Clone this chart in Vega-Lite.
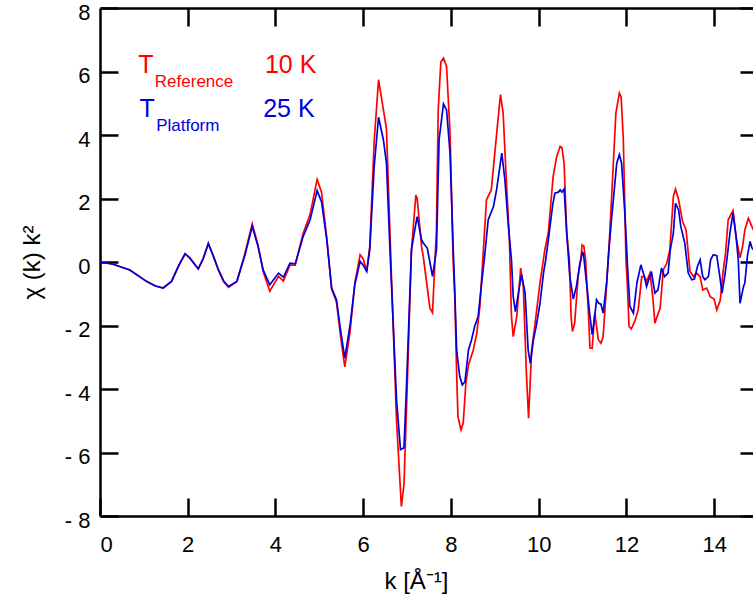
{
  "$schema": "https://vega.github.io/schema/vega-lite/v6.json",
  "width": 658,
  "height": 508,
  "autosize": {"type": "none"},
  "padding": {"left": 100, "top": 8, "right": 0, "bottom": 89},
  "background": "white",
  "config": {
    "view": {"stroke": null},
    "axis": {
      "grid": false,
      "domainColor": "black",
      "domainWidth": 2.5,
      "tickColor": "black",
      "tickWidth": 2.5,
      "tickSize": -18,
      "labelFont": "Liberation Sans",
      "labelFontSize": 22,
      "labelColor": "black",
      "titleFont": "Liberation Sans",
      "titleFontSize": 24,
      "titleFontWeight": "normal",
      "titleColor": "black"
    }
  },
  "datasets": {
    "ref": [
      {"k":0,"chi":0},{"k":0.3,"chi":-0.07},{"k":0.68,"chi":-0.25},{"k":1.06,"chi":-0.61},{"k":1.25,"chi":-0.75},{"k":1.44,"chi":-0.82},{"k":1.63,"chi":-0.61},{"k":1.8,"chi":-0.1},{"k":1.94,"chi":0.26},{"k":2.05,"chi":0.12},{"k":2.24,"chi":-0.22},{"k":2.35,"chi":0.1},{"k":2.47,"chi":0.6},{"k":2.58,"chi":0.2},{"k":2.7,"chi":-0.25},{"k":2.82,"chi":-0.62},{"k":2.93,"chi":-0.8},{"k":3.12,"chi":-0.61},{"k":3.3,"chi":0.25},{"k":3.47,"chi":1.2},{"k":3.6,"chi":0.55},{"k":3.72,"chi":-0.3},{"k":3.87,"chi":-0.92},{"k":4.07,"chi":-0.45},{"k":4.18,"chi":-0.6},{"k":4.33,"chi":-0.1},{"k":4.45,"chi":-0.1},{"k":4.63,"chi":0.9},{"k":4.79,"chi":1.5},{"k":4.95,"chi":2.6},{"k":5.05,"chi":2.2},{"k":5.17,"chi":0.75},{"k":5.28,"chi":-0.85},{"k":5.39,"chi":-1.25},{"k":5.49,"chi":-2.4},{"k":5.58,"chi":-3.3},{"k":5.7,"chi":-2.2},{"k":5.81,"chi":-0.66},{"k":5.93,"chi":0.23},{"k":6.0,"chi":0.1},{"k":6.08,"chi":-0.3},{"k":6.15,"chi":0.5},{"k":6.25,"chi":3.8},{"k":6.35,"chi":5.74},{"k":6.46,"chi":4.8},{"k":6.53,"chi":4.2},{"k":6.62,"chi":0.5},{"k":6.76,"chi":-5.0},{"k":6.87,"chi":-7.7},{"k":6.93,"chi":-7.0},{"k":6.99,"chi":-4.5},{"k":7.1,"chi":0.38},{"k":7.2,"chi":2.11},{"k":7.23,"chi":2.0},{"k":7.33,"chi":0.49},{"k":7.37,"chi":0.17},{"k":7.46,"chi":-0.8},{"k":7.52,"chi":-1.45},{"k":7.58,"chi":-1.6},{"k":7.67,"chi":1.0},{"k":7.71,"chi":4.79},{"k":7.77,"chi":6.3},{"k":7.83,"chi":6.42},{"k":7.9,"chi":6.16},{"k":7.98,"chi":4.06},{"k":8.05,"chi":0.07},{"k":8.09,"chi":-1.19},{"k":8.13,"chi":-3.5},{"k":8.16,"chi":-4.87},{"k":8.23,"chi":-5.29},{"k":8.28,"chi":-5.07},{"k":8.34,"chi":-3.81},{"k":8.4,"chi":-3.24},{"k":8.51,"chi":-2.77},{"k":8.59,"chi":-2.24},{"k":8.66,"chi":-1.4},{"k":8.74,"chi":0.38},{"k":8.81,"chi":1.96},{"k":8.92,"chi":2.27},{"k":9.0,"chi":3.43},{"k":9.08,"chi":4.58},{"k":9.13,"chi":5.27},{"k":9.19,"chi":4.69},{"k":9.27,"chi":2.38},{"k":9.33,"chi":0.8},{"k":9.38,"chi":-1.72},{"k":9.42,"chi":-2.35},{"k":9.5,"chi":-1.72},{"k":9.59,"chi":-0.19},{"k":9.65,"chi":-0.77},{"k":9.72,"chi":-3.5},{"k":9.77,"chi":-4.92},{"k":9.84,"chi":-2.77},{"k":9.91,"chi":-2.03},{"k":10.03,"chi":-0.66},{"k":10.14,"chi":0.38},{"k":10.22,"chi":0.92},{"k":10.33,"chi":2.69},{"k":10.41,"chi":3.32},{"k":10.49,"chi":3.64},{"k":10.53,"chi":3.6},{"k":10.58,"chi":3.11},{"k":10.64,"chi":0.91},{"k":10.7,"chi":0.07},{"k":10.74,"chi":-1.72},{"k":10.77,"chi":-2.19},{"k":10.82,"chi":-1.93},{"k":10.9,"chi":-0.46},{"k":10.96,"chi":0.07},{"k":10.99,"chi":0.54},{"k":11.03,"chi":0.5},{"k":11.07,"chi":0.07},{"k":11.13,"chi":-1.5},{"k":11.17,"chi":-2.71},{"k":11.22,"chi":-2.72},{"k":11.28,"chi":-1.61},{"k":11.36,"chi":-2.45},{"k":11.42,"chi":-2.56},{"k":11.47,"chi":-2.35},{"k":11.55,"chi":-0.66},{"k":11.6,"chi":0.38},{"k":11.66,"chi":1.96},{"k":11.76,"chi":4.69},{"k":11.84,"chi":5.32},{"k":11.88,"chi":5.2},{"k":11.93,"chi":3.85},{"k":11.99,"chi":0.07},{"k":12.02,"chi":-0.66},{"k":12.06,"chi":-2.03},{"k":12.11,"chi":-2.11},{"k":12.19,"chi":-1.87},{"k":12.27,"chi":-1.5},{"k":12.35,"chi":-0.46},{"k":12.41,"chi":-0.46},{"k":12.46,"chi":-0.61},{"k":12.54,"chi":-0.35},{"k":12.6,"chi":-1.09},{"k":12.65,"chi":-1.93},{"k":12.7,"chi":-1.72},{"k":12.77,"chi":-1.45},{"k":12.84,"chi":-0.25},{"k":12.92,"chi":-0.04},{"k":12.99,"chi":0.38},{"k":13.07,"chi":2.06},{"k":13.12,"chi":2.3},{"k":13.19,"chi":1.96},{"k":13.28,"chi":1.28},{"k":13.36,"chi":1.01},{"k":13.41,"chi":0.28},{"k":13.45,"chi":-0.3},{"k":13.53,"chi":-0.46},{"k":13.6,"chi":-0.35},{"k":13.68,"chi":-0.46},{"k":13.74,"chi":-0.88},{"k":13.83,"chi":-0.82},{"k":13.91,"chi":-1.09},{"k":14.0,"chi":-1.17},{"k":14.06,"chi":-1.51},{"k":14.14,"chi":-1.2},{"k":14.2,"chi":-0.35},{"k":14.26,"chi":0.28},{"k":14.32,"chi":1.33},{"k":14.43,"chi":1.62},{"k":14.51,"chi":0.7},{"k":14.59,"chi":0.13},{"k":14.65,"chi":0.5},{"k":14.7,"chi":1.01},{"k":14.78,"chi":1.38},{"k":14.86,"chi":1.12},{"k":15,"chi":0.7}
    ],
    "plat": [
      {"k":0,"chi":0},{"k":0.3,"chi":-0.07},{"k":0.68,"chi":-0.25},{"k":1.06,"chi":-0.61},{"k":1.25,"chi":-0.75},{"k":1.44,"chi":-0.82},{"k":1.63,"chi":-0.61},{"k":1.8,"chi":-0.1},{"k":1.94,"chi":0.26},{"k":2.05,"chi":0.12},{"k":2.24,"chi":-0.22},{"k":2.35,"chi":0.1},{"k":2.47,"chi":0.57},{"k":2.58,"chi":0.2},{"k":2.7,"chi":-0.25},{"k":2.82,"chi":-0.6},{"k":2.93,"chi":-0.77},{"k":3.12,"chi":-0.61},{"k":3.3,"chi":0.2},{"k":3.47,"chi":1.12},{"k":3.6,"chi":0.5},{"k":3.72,"chi":-0.25},{"k":3.87,"chi":-0.72},{"k":4.07,"chi":-0.35},{"k":4.18,"chi":-0.48},{"k":4.33,"chi":-0.04},{"k":4.45,"chi":-0.06},{"k":4.63,"chi":0.8},{"k":4.79,"chi":1.33},{"k":4.95,"chi":2.25},{"k":5.05,"chi":1.9},{"k":5.17,"chi":0.7},{"k":5.28,"chi":-0.82},{"k":5.39,"chi":-1.19},{"k":5.49,"chi":-2.2},{"k":5.58,"chi":-3.03},{"k":5.7,"chi":-2.0},{"k":5.81,"chi":-0.7},{"k":5.93,"chi":0.02},{"k":6.0,"chi":-0.1},{"k":6.08,"chi":-0.3},{"k":6.15,"chi":0.4},{"k":6.25,"chi":3.0},{"k":6.35,"chi":4.56},{"k":6.46,"chi":3.85},{"k":6.53,"chi":3.12},{"k":6.62,"chi":0.07},{"k":6.76,"chi":-4.34},{"k":6.85,"chi":-5.91},{"k":6.93,"chi":-5.85},{"k":6.99,"chi":-3.81},{"k":7.1,"chi":0.38},{"k":7.2,"chi":1.2},{"k":7.23,"chi":1.43},{"k":7.33,"chi":0.7},{"k":7.37,"chi":0.6},{"k":7.46,"chi":0.44},{"k":7.52,"chi":0.0},{"k":7.58,"chi":-0.45},{"k":7.67,"chi":0.38},{"k":7.73,"chi":3.85},{"k":7.83,"chi":4.98},{"k":7.9,"chi":4.79},{"k":7.98,"chi":3.43},{"k":8.05,"chi":0.49},{"k":8.09,"chi":-1.0},{"k":8.13,"chi":-2.77},{"k":8.2,"chi":-3.6},{"k":8.26,"chi":-3.87},{"k":8.32,"chi":-3.77},{"k":8.4,"chi":-2.77},{"k":8.47,"chi":-2.45},{"k":8.54,"chi":-2.03},{"k":8.62,"chi":-1.72},{"k":8.7,"chi":-0.66},{"k":8.76,"chi":0.07},{"k":8.85,"chi":1.33},{"k":8.97,"chi":1.75},{"k":9.04,"chi":2.27},{"k":9.16,"chi":3.43},{"k":9.23,"chi":2.59},{"k":9.31,"chi":1.12},{"k":9.38,"chi":0.07},{"k":9.42,"chi":-1.09},{"k":9.47,"chi":-1.56},{"k":9.55,"chi":-0.88},{"k":9.61,"chi":-0.4},{"k":9.69,"chi":-0.97},{"k":9.76,"chi":-2.77},{"k":9.81,"chi":-3.19},{"k":9.88,"chi":-2.45},{"k":9.95,"chi":-1.98},{"k":10.03,"chi":-1.3},{"k":10.11,"chi":-0.35},{"k":10.16,"chi":0.07},{"k":10.22,"chi":0.7},{"k":10.32,"chi":1.8},{"k":10.37,"chi":2.17},{"k":10.45,"chi":2.2},{"k":10.49,"chi":2.27},{"k":10.53,"chi":2.2},{"k":10.58,"chi":2.3},{"k":10.64,"chi":0.91},{"k":10.71,"chi":-0.46},{"k":10.79,"chi":-1.17},{"k":10.86,"chi":-0.77},{"k":10.94,"chi":-0.04},{"k":11.0,"chi":0.3},{"k":11.02,"chi":0.28},{"k":11.09,"chi":-0.66},{"k":11.17,"chi":-1.72},{"k":11.22,"chi":-2.29},{"k":11.26,"chi":-1.9},{"k":11.32,"chi":-1.19},{"k":11.37,"chi":-1.3},{"k":11.42,"chi":-1.33},{"k":11.47,"chi":-1.61},{"k":11.55,"chi":-0.66},{"k":11.6,"chi":0.38},{"k":11.66,"chi":1.33},{"k":11.78,"chi":3.11},{"k":11.84,"chi":3.38},{"k":11.89,"chi":3.11},{"k":11.97,"chi":1.43},{"k":12.03,"chi":-0.25},{"k":12.08,"chi":-1.4},{"k":12.16,"chi":-1.61},{"k":12.24,"chi":-0.66},{"k":12.33,"chi":-0.09},{"k":12.41,"chi":-0.46},{"k":12.46,"chi":-0.77},{"k":12.57,"chi":-0.3},{"k":12.65,"chi":-0.98},{"k":12.72,"chi":-0.88},{"k":12.8,"chi":-0.19},{"k":12.87,"chi":-0.46},{"k":12.95,"chi":-0.35},{"k":13.0,"chi":0.38},{"k":13.07,"chi":0.91},{"k":13.12,"chi":1.85},{"k":13.19,"chi":1.64},{"k":13.24,"chi":1.12},{"k":13.33,"chi":0.6},{"k":13.41,"chi":-0.35},{"k":13.49,"chi":-0.56},{"k":13.55,"chi":-0.54},{"k":13.62,"chi":-0.14},{"k":13.68,"chi":0.07},{"k":13.74,"chi":-0.46},{"k":13.79,"chi":-0.56},{"k":13.87,"chi":-0.46},{"k":13.92,"chi":0.07},{"k":13.98,"chi":0.23},{"k":14.06,"chi":0.2},{"k":14.13,"chi":-0.46},{"k":14.18,"chi":-0.98},{"k":14.24,"chi":-0.46},{"k":14.29,"chi":0.07},{"k":14.36,"chi":0.91},{"k":14.43,"chi":1.54},{"k":14.5,"chi":0.8},{"k":14.55,"chi":0.07},{"k":14.59,"chi":-1.3},{"k":14.67,"chi":-0.77},{"k":14.7,"chi":-0.66},{"k":14.76,"chi":0.2},{"k":14.82,"chi":0.65},{"k":14.86,"chi":0.45},{"k":15,"chi":0.2}
    ],
    "big": [
      {"k":0.87,"chi":5.96,"t":"T","g":"r"},
      {"k":3.76,"chi":5.96,"t":"10 K","g":"r"},
      {"k":0.9,"chi":4.57,"t":"T","g":"b"},
      {"k":3.72,"chi":4.57,"t":"25 K","g":"b"}
    ],
    "small": [
      {"k":1.25,"chi":5.52,"t":"Reference","g":"r"},
      {"k":1.28,"chi":4.13,"t":"Platform","g":"b"}
    ]
  },
  "resolve": {"axis": {"x": "independent", "y": "independent"}},
  "layer": [
    {
      "data": {"name": "ref"},
      "mark": {"type": "line", "color": "#ff0000", "strokeWidth": 1.7, "clip": true},
      "encoding": {
        "x": {"field": "k", "type": "quantitative",
              "scale": {"domain": [0, 15], "nice": false, "zero": false},
              "axis": {"orient": "bottom", "values": [0,2,4,6,8,10,12,14], "labelPadding": 36, "title": "k  [Å⁻¹]", "titlePadding": 14, "titleX": 316}},
        "y": {"field": "chi", "type": "quantitative",
              "scale": {"domain": [-8, 8], "nice": false, "zero": false},
              "axis": {"orient": "left", "values": [-8,-6,-4,-2,0,2,4,6,8], "labelPadding": 28, "labelOffset": 4,
                       "labelExpr": "datum.value < 0 ? '-  ' + abs(datum.value) : datum.label",
                       "title": "χ (k) k²", "titlePadding": 14}}
      }
    },
    {
      "data": {"name": "plat"},
      "mark": {"type": "line", "color": "#0000dd", "strokeWidth": 1.7, "clip": true},
      "encoding": {
        "x": {"field": "k", "type": "quantitative",
              "axis": {"orient": "top", "values": [2,4,6,8,10,12,14], "labels": false, "title": null}},
        "y": {"field": "chi", "type": "quantitative",
              "axis": {"orient": "right", "values": [-8,-6,-4,-2,0,2,4,6,8], "labels": false, "title": null}}
      }
    },
    {
      "data": {"name": "big"},
      "mark": {"type": "text", "align": "left", "baseline": "alphabetic", "font": "Liberation Sans", "fontSize": 25},
      "encoding": {
        "x": {"field": "k", "type": "quantitative", "axis": null},
        "y": {"field": "chi", "type": "quantitative", "axis": null},
        "text": {"field": "t"},
        "color": {"field": "g", "type": "nominal", "scale": {"domain": ["r","b"], "range": ["#ff0000","#0000dd"]}, "legend": null}
      }
    },
    {
      "data": {"name": "small"},
      "mark": {"type": "text", "align": "left", "baseline": "alphabetic", "font": "Liberation Sans", "fontSize": 17},
      "encoding": {
        "x": {"field": "k", "type": "quantitative", "axis": null},
        "y": {"field": "chi", "type": "quantitative", "axis": null},
        "text": {"field": "t"},
        "color": {"field": "g", "type": "nominal", "legend": null}
      }
    }
  ]
}
